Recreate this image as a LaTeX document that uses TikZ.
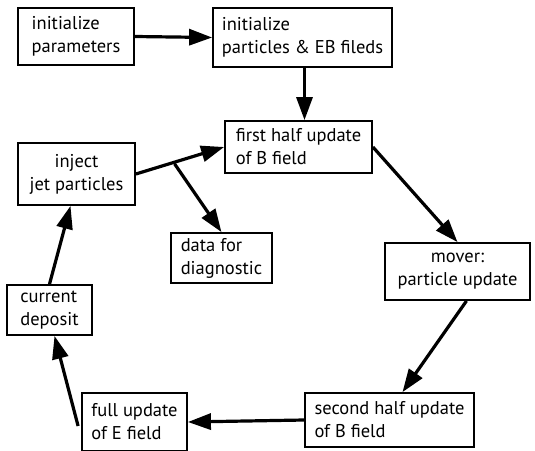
\documentclass[tikz,border=0pt]{standalone}
\usepackage{fontspec}
\setmainfont{PT Sans}
\usetikzlibrary{arrows.meta,calc}

\tikzset{
  box/.style={draw, line width=1.8pt, rectangle, align=left, inner sep=0pt,
    font=\fontsize{18.5}{23}\selectfont},
  arr/.style={line width=3.2pt, -{Triangle[length=23pt,width=16pt]}}
}

\begin{document}
\begin{tikzpicture}[x=1pt, y=-1pt]
  % Frame of the picture
  \clip (0,0) rectangle (535,450);
  \fill[white] (0,0) rectangle (535,450);

  % Set-up boxes
  \node[box, minimum width=116pt, minimum height=57pt] (params) at (76,36.5) {initialize\\parameters};
  \node[box, minimum width=179pt, minimum height=59pt] (initpart) at (302.5,37.5) {initialize\\particles \& EB fileds};

  % Main loop
  \node[box, minimum width=147pt, minimum height=52pt] (firsthalf) at (298.5,147) {first half update\\of B field};
  \node[box, minimum width=145pt, minimum height=57pt, align=center] (mover) at (457.5,271.5) {mover:\\particle update};
  \node[box, minimum width=169pt, minimum height=54pt] (secondhalf) at (389.5,420) {second half update\\of B field};
  \node[box, minimum width=105pt, minimum height=58pt] (fullE) at (134.5,422) {full update\\of E field};
  \node[box, minimum width=85pt, minimum height=50pt] (current) at (49.5,310) {current\\deposit};
  \node[box, minimum width=117pt, minimum height=62pt, align=center] (inject) at (76.5,174) {inject\\jet particles};

  % Output
  \node[box, minimum width=101pt, minimum height=50pt] (diag) at (221.5,258) {data for\\diagnostic};

  % Arrows
  \draw[arr] (params.east) -- (initpart.west);
  \draw[arr] ([xshift=2pt]initpart.south) -- ([xshift=2pt]initpart.south |- firsthalf.north);
  \draw[arr] (firsthalf.east) -- (mover.north);
  \draw[arr] ([xshift=9pt]mover.south) -- ([xshift=13pt]secondhalf.north);
  \draw[arr] (secondhalf.west) -- (fullE.east);
  \draw[arr] ([shift={(-3pt,-4pt)}]fullE.west) -- ([xshift=5pt]current.south);
  \draw[arr] (current.north) -- ([xshift=-6pt]inject.south);
  \draw[arr] (inject.east) -- coordinate[pos=0.45] (branch) (firsthalf.west);
  \draw[arr] ([shift={(-1pt,-2pt)}]branch) -- (diag.north);
\end{tikzpicture}
\end{document}
